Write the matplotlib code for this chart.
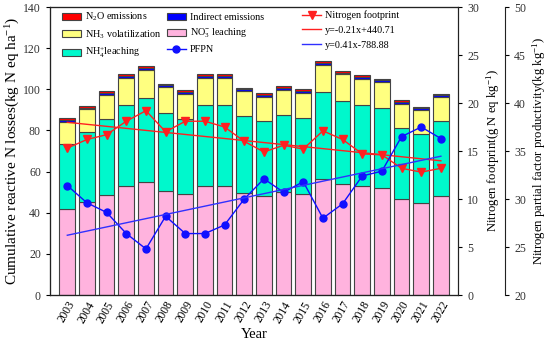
import numpy as np
import matplotlib
matplotlib.use("Agg")
import matplotlib.pyplot as plt

plt.rcParams['font.family'] = ['Liberation Serif', 'DejaVu Serif']
plt.rcParams['mathtext.fontset'] = 'custom'
plt.rcParams['mathtext.rm'] = 'Liberation Serif'
plt.rcParams['mathtext.it'] = 'Liberation Serif:italic'

years = list(range(2003, 2023))
no3 = [41.8, 45.2, 48.8, 52.8, 55.0, 50.6, 48.9, 52.8, 52.8, 49.6, 48.3, 50.0, 49.1, 56.6, 54.0, 52.8, 51.9, 46.5, 44.7, 48.3]
nh4 = [31.7, 34.0, 36.6, 39.6, 40.9, 37.7, 36.8, 39.6, 39.6, 37.4, 36.1, 37.4, 36.9, 41.9, 40.1, 39.4, 38.8, 34.8, 33.8, 36.1]
nh3 = [10.5, 11.0, 11.8, 13.1, 13.5, 12.7, 12.0, 13.1, 13.1, 12.0, 11.9, 12.4, 12.4, 13.5, 13.1, 12.8, 12.7, 11.7, 11.3, 11.7]
indirect = [0.9] * 20
n2o = [0.9] * 20
footprint = [15.3, 16.2, 16.7, 18.1, 19.2, 17.0, 18.1, 18.1, 17.5, 16.0, 14.9, 15.6, 15.2, 17.1, 16.2, 14.7, 14.6, 13.2, 12.8, 13.2]
pfpn = [31.4, 29.6, 28.6, 26.4, 24.8, 28.2, 26.4, 26.4, 27.3, 30.0, 32.1, 30.7, 31.8, 28.0, 29.5, 32.4, 32.9, 36.5, 37.5, 36.3]

fig = plt.figure(figsize=(5.5, 3.43), dpi=100)
ax = fig.add_axes([50/550, 48/343, 408/550, 288/343])
x = np.arange(len(years))
w = 0.8
ec = '#444444'
lw = 0.8
b0 = np.zeros(len(years))
series = [(no3, '#FFB3DE', r'NO$_3^{-}$ leaching'),
          (nh4, '#00F8CC', r'NH$_4^{+}$leaching'),
          (nh3, '#FFFF80', r'NH$_3$ volatilization'),
          (indirect, '#0000FF', 'Indirect emissions'),
          (n2o, '#FF0000', r'N$_2$O emissions')]
bars = {}
for vals, col, lab in series:
    bars[lab] = ax.bar(x, vals, w, bottom=b0, color=col, edgecolor=ec, linewidth=lw, label=lab)
    b0 = b0 + np.array(vals)

ax.set_xlim(-0.88, 19.87)
ax.set_ylim(0, 140)
ax.set_yticks(range(0, 141, 20))
ax.set_xticks(x)
ax.set_xticklabels([str(y) for y in years], rotation=60, ha='right', rotation_mode='anchor', fontsize=8.3)
ax.tick_params(axis='x', length=0, pad=3)
ax.tick_params(axis='y', labelsize=8.5, direction='out', length=3, labelcolor='#333333')
ax.set_xlabel('Year', fontsize=10.5, labelpad=2)
ax.set_ylabel(r'Cumulative reactive N losses(kg N eq ha$^{-1}$)', fontsize=11, labelpad=1)

ax2 = ax.twinx()
ax2.set_ylim(0, 30)
ax2.set_yticks(range(0, 31, 5))
ax2.tick_params(axis='y', labelsize=8.5, direction='out', length=3, labelcolor='#333333')
ax2.set_ylabel(r'Nitrogen footprint(g N eq kg$^{-1}$)', fontsize=9.2, labelpad=4)
fp_line, = ax2.plot(x, footprint, color='#FF2020', marker='v', markersize=6, linewidth=1.0, label='Nitrogen footprint')
c1 = np.polyfit(x, footprint, 1)
fp_fit, = ax2.plot(x, np.polyval(c1, x), color='#FF2020', linewidth=1.0, label='y=-0.21x+440.71')

ax3 = ax.twinx()
ax3.spines['right'].set_position(('outward', 34))
ax3.set_ylim(20, 50)
ax3.set_yticks(range(20, 51, 5))
ax3.tick_params(axis='y', labelsize=8.5, direction='out', length=3, labelcolor='#333333')
ax3.set_ylabel(r'Nitrogen partial factor productivity(kg kg$^{-1}$)', fontsize=9.2, labelpad=3)
pf_line, = ax3.plot(x, pfpn, color='#1010FF', marker='o', markersize=5, linewidth=1.0, label='PFPN')
c2 = np.polyfit(x, pfpn, 1)
pf_fit, = ax3.plot(x, np.polyval(c2, x), color='#3030FF', linewidth=1.0, label='y=0.41x-788.88')

for a in (ax, ax2, ax3):
    for s in a.spines.values():
        s.set_color('#222222')

h1 = [bars[r'N$_2$O emissions'], bars[r'NH$_3$ volatilization'], bars[r'NH$_4^{+}$leaching'],
      bars['Indirect emissions'], bars[r'NO$_3^{-}$ leaching'], pf_line]
l1 = [r'N$_2$O emissions', r'NH$_3$ volatilization', r'NH$_4^{+}$leaching',
      'Indirect emissions', r'NO$_3^{-}$ leaching', 'PFPN']
leg1 = ax3.legend(h1, l1, ncol=2, loc='upper left', bbox_to_anchor=(0.012, 1.012), frameon=False,
                  fontsize=7.3, handlelength=1.9, handleheight=0.7, columnspacing=0.5,
                  labelspacing=0.5, handletextpad=0.4, borderpad=0.2)
ax3.add_artist(leg1)
leg2 = ax3.legend([fp_line, fp_fit, pf_fit], ['Nitrogen footprint', 'y=-0.21x+440.71', 'y=0.41x-788.88'],
                  loc='upper left', bbox_to_anchor=(0.6, 1.012), frameon=False, fontsize=7.3,
                  handlelength=1.9, labelspacing=0.55, handletextpad=0.4, borderpad=0.2)

fig.savefig('out.png', dpi=100)
